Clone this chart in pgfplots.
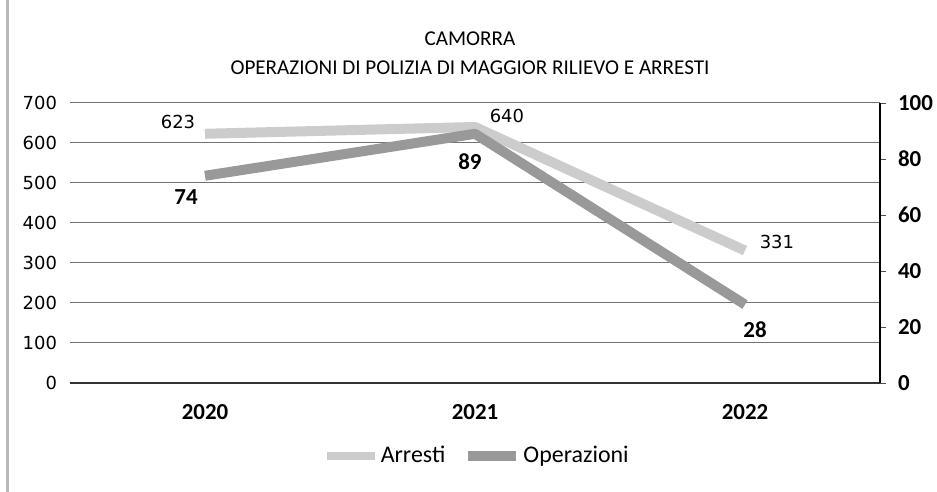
\documentclass[border=0pt]{standalone}
\usepackage{pgfplots}
\pgfplotsset{compat=1.18}
\usepackage{fontspec}
\setmainfont{Carlito}
\newfontfamily\dejavu{DejaVu Sans}

\definecolor{arrcol}{gray}{0.80}
\definecolor{opcol}{gray}{0.60}

\begin{document}
\begin{tikzpicture}[x=0.5bp,y=0.5bp]
\path[use as bounding box] (-70,-109) rectangle (867,383);
% chart frame edge (left)
\draw[gray!55, line width=1.5bp] (-62,-109) -- (-62,383);

% left axis: Arresti
\begin{axis}[
    scale only axis,
    width=405bp, height=140bp,
    xmin=-0.5, xmax=2.5,
    ymin=0, ymax=700,
    xtick={0,1,2},
    xticklabels={2020,2021,2022},
    ytick={0,100,...,700},
    axis x line*=bottom,
    axis y line*=left,
    y axis line style={draw=none},
    x axis line style={black!80, line width=0.8bp},
    major tick length=0pt,
    ymajorgrids,
    grid style={black!55, line width=0.5bp},
    /pgf/number format/assume math mode=true,
    yticklabel style={font=\dejavu\fontsize{9}{10}\selectfont, xshift=-3bp},
    xticklabel style={font=\bfseries\fontsize{11.5}{13}\selectfont, yshift=-7bp},
    clip=false,
]
\addplot[arrcol, line width=5bp, line join=round] coordinates {
    (0, 623)
    (1, 640)
    (2, 331)
};
\end{axis}

% right axis: Operazioni
\begin{axis}[
    scale only axis,
    width=405bp, height=140bp,
    xmin=-0.5, xmax=2.5,
    ymin=0, ymax=100,
    axis x line=none,
    axis y line*=right,
    y axis line style={black, line width=0.8bp},
    ytick={0,20,...,100},
    tick align=outside,
    major tick length=3bp,
    y tick style={black!70},
    /pgf/number format/assume math mode=true,
    yticklabel style={font=\bfseries\fontsize{11.5}{13}\selectfont, xshift=2.5bp},
    clip=false,
    legend style={at={(0.502,-0.26)}, anchor=center, draw=none, fill=none,
        font=\fontsize{12}{14}\selectfont, legend columns=2,
        /tikz/every even column/.append style={column sep=8bp},
        nodes={inner xsep=1bp}},
    legend image code/.code={\draw[#1] (0cm,0cm) -- (0.85cm,0cm);},
]
\addlegendimage{arrcol, line width=4bp}
\addlegendentry{Arresti}
\addplot[opcol, line width=5bp, line join=round] coordinates {
    (0, 74)
    (1, 89)
    (2, 28)
};
\addlegendentry{Operazioni}

% data labels
\node[font=\dejavu\fontsize{9}{10}\selectfont] at (axis cs:-0.1,93.2) {623};
\node[font=\dejavu\fontsize{9}{10}\selectfont] at (axis cs:1.118,95.5) {640};
\node[font=\dejavu\fontsize{9}{10}\selectfont] at (axis cs:2.118,50.4) {331};
\node[font=\bfseries\fontsize{11.5}{13}\selectfont] at (axis cs:-0.07,66.4) {74};
\node[font=\bfseries\fontsize{11.5}{13}\selectfont] at (axis cs:0.981,79) {89};
\node[font=\bfseries\fontsize{11.5}{13}\selectfont] at (axis cs:2.037,18.9) {28};
\end{axis}

% title
\node[font=\fontsize{10.6}{12}\selectfont] at (400,344) {CAMORRA};
\node[font=\fontsize{10.6}{12}\selectfont] at (400,315) {OPERAZIONI DI POLIZIA DI MAGGIOR RILIEVO E ARRESTI};
\end{tikzpicture}
\end{document}
